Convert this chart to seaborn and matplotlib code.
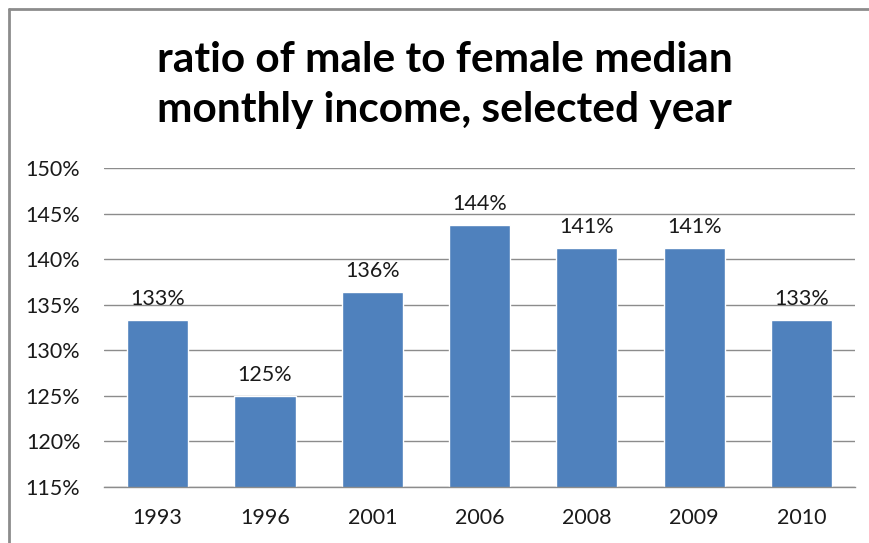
import matplotlib
matplotlib.use("Agg")
import matplotlib.pyplot as plt
from matplotlib.lines import Line2D
import seaborn as sns
import pandas as pd

years = ["1993", "1996", "2001", "2006", "2008", "2009", "2010"]
ratios = [1.333, 1.250, 1.364, 1.437, 1.412, 1.412, 1.333]
y_ticks = [1.15, 1.20, 1.25, 1.30, 1.35, 1.40, 1.45, 1.50]

title = "ratio of male to female median\nmonthly income, selected year"

sns.set_theme(style="white")
plt.rcParams["font.family"] = ["Lato", "DejaVu Sans"]

df = pd.DataFrame({"year": years, "ratio": ratios})

fig = plt.figure(figsize=(8.69, 5.43), dpi=100)
ax = fig.add_axes([0.1197, 0.1031, 0.984 - 0.1197, 0.6906 - 0.1031])

sns.barplot(data=df, x="year", y="ratio", color="#4F81BD", saturation=1,
            width=0.57, ax=ax)

ax.set_ylim(1.15, 1.50)
ax.set_yticks(y_ticks)
ax.set_yticklabels([f"{v*100:.0f}%" for v in y_ticks])
ax.yaxis.grid(True, color="#8c8c8c", linewidth=1.0)
ax.set_axisbelow(True)
ax.set_xlabel("")
ax.set_ylabel("")

for s in ["top", "right", "left"]:
    ax.spines[s].set_visible(False)
ax.spines["bottom"].set_color("#8c8c8c")
ax.spines["bottom"].set_linewidth(1.0)

ax.tick_params(axis="y", length=0, pad=17, labelsize=15.5, colors="#1a1a1a")
ax.tick_params(axis="x", length=0, pad=15, labelsize=15.5, colors="#1a1a1a")

for i, v in enumerate(ratios):
    ax.annotate(f"{v*100:.0f}%", xy=(i, v), xytext=(0, 8),
                textcoords="offset points", ha="center", va="bottom",
                fontsize=15.5, color="#1a1a1a")

fig.text(0.512, 0.8435, title, ha="center", va="center", fontsize=30.5,
         fontweight="bold", color="black", linespacing=1.4)

# chart-area border (top and left edges)
bx, by = 9 / 869, 1 - 9 / 543
for xs, ys in [([bx, 1.0], [by, by]), ([bx, bx], [by, 0.0])]:
    fig.add_artist(Line2D(xs, ys, transform=fig.transFigure,
                          color="#8c8c8c", linewidth=2.0, zorder=10))

fig.savefig("out.png", dpi=100)
